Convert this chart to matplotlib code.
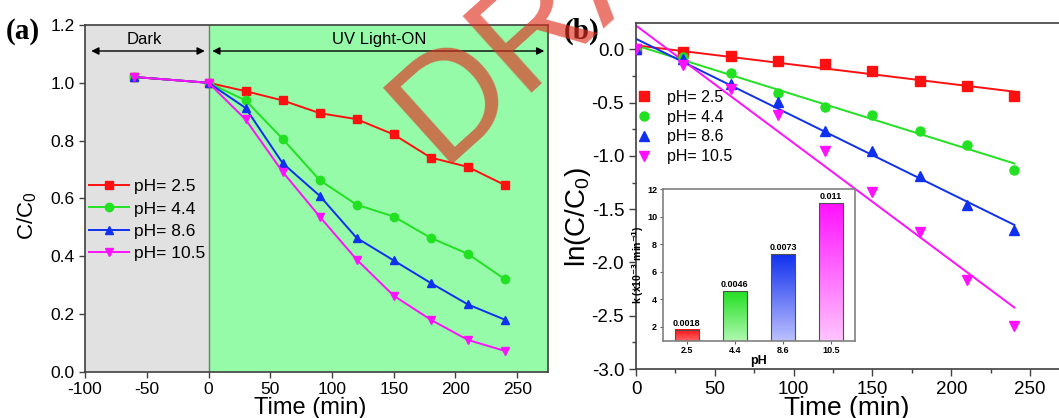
import numpy as np
import matplotlib.pyplot as plt
from matplotlib.colors import LinearSegmentedColormap

plt.rcParams['font.family'] = ['Liberation Sans', 'DejaVu Sans']
plt.rcParams['axes.unicode_minus'] = False
plt.rcParams['mathtext.default'] = 'regular'

# (a) C/C0 against time
time_a = [-60, 0, 30, 60, 90, 120, 150, 180, 210, 240]
c_ph25 = [1.02, 1.0, 0.971, 0.939, 0.895, 0.874, 0.821, 0.741, 0.709, 0.646]
c_ph44 = [1.02, 1.0, 0.939, 0.806, 0.663, 0.578, 0.537, 0.463, 0.408, 0.320]
c_ph86 = [1.02, 1.0, 0.913, 0.722, 0.609, 0.463, 0.385, 0.307, 0.233, 0.180]
c_ph105 = [1.02, 1.0, 0.873, 0.692, 0.537, 0.388, 0.263, 0.180, 0.110, 0.072]

# (b) ln(C/C0) against time
time_b = [0, 30, 60, 90, 120, 150, 180, 210, 240]
ln_ph25 = [0, -0.025, -0.065, -0.11, -0.14, -0.20, -0.30, -0.345, -0.435]
ln_ph44 = [0, -0.07, -0.218, -0.408, -0.545, -0.62, -0.77, -0.894, -1.13]
ln_ph86 = [0, -0.09, -0.324, -0.49, -0.766, -0.953, -1.187, -1.46, -1.70]
ln_ph105 = [0, -0.146, -0.37, -0.62, -0.956, -1.335, -1.715, -2.166, -2.594]

# inset: rate constants
ph_cats = ['2.5', '4.4', '8.6', '10.5']
k_vals = [0.0018, 0.0046, 0.0073, 0.011]
k_text = ['0.0018', '0.0046', '0.0073', '0.011']

labels = ['pH= 2.5', 'pH= 4.4', 'pH= 8.6', 'pH= 10.5']
colors = ['#ff1010', '#22e022', '#1030f0', '#ff10ff']
markers = ['s', 'o', '^', 'v']
light = ['#ffd0d0', '#d8ffd8', '#d8d8ff', '#ffd8ff']

fig = plt.figure(figsize=(10.59, 4.18), dpi=100)

# ---- panel (a)
ax1 = fig.add_axes([0.0803, 0.1108, 0.4372, 0.8294])
ax1.axvspan(-100, 0, color='#e1e1e1', zorder=0)
ax1.axvspan(0, 275, color='#96fba8', zorder=0)
ax1.axvline(0, color='#7a7a7a', lw=1, zorder=1)
for y, c, m, lab in zip([c_ph25, c_ph44, c_ph86, c_ph105], colors, markers, labels):
    ax1.plot(time_a, y, color=c, marker=m, ms=6, lw=1.4, label=lab, zorder=3)

# Dark / UV arrows
ax1.annotate('', xy=(-95, 1.11), xytext=(-3, 1.11),
             arrowprops=dict(arrowstyle='<|-|>', color='k', lw=1, shrinkA=0, shrinkB=0,
                             mutation_scale=11))
ax1.annotate('', xy=(3, 1.11), xytext=(272, 1.11),
             arrowprops=dict(arrowstyle='<|-|>', color='k', lw=1, shrinkA=0, shrinkB=0,
                             mutation_scale=11))
ax1.text(-52, 1.15, 'Dark', ha='center', va='center', fontsize=12)
ax1.text(138, 1.15, 'UV Light-ON', ha='center', va='center', fontsize=12)

ax1.set_xlim(-100, 275)
ax1.set_ylim(0, 1.2)
ax1.set_xticks(np.arange(-100, 251, 50))
ax1.set_yticks(np.arange(0, 1.21, 0.2))
ax1.set_yticklabels(['%.1f' % v for v in np.arange(0, 1.21, 0.2)])
ax1.tick_params(direction='out', length=4, width=1, labelsize=12.5, color='#404040')
for s in ax1.spines.values():
    s.set_color('#404040')
    s.set_linewidth(1.2)
ax1.set_xlabel('Time (min)', fontsize=17)
ax1.xaxis.set_label_coords(0.486, -0.074)
ax1.set_ylabel('C/C$_0$', fontsize=16)
ax1.yaxis.set_label_coords(-0.099, 0.45)
ax1.legend(loc='upper left', bbox_to_anchor=(0.0086, 0.555), frameon=False, fontsize=12.5,
           handlelength=2.3, handletextpad=0.3, labelspacing=0.4, borderpad=0,
           borderaxespad=0)
fig.text(0.005, 0.925, '(a)', fontsize=21, fontweight='bold', family='Liberation Serif',
         va='center')

# ---- panel (b)
ax2 = fig.add_axes([0.6006, 0.1172, 0.4093, 0.8285])
for y, c, m, lab in zip([ln_ph25, ln_ph44, ln_ph86, ln_ph105], colors, markers, labels):
    ax2.plot(time_b, y, ls='none', marker=m, color=c, ms=6.5, label=lab, zorder=3)
    fit = np.polyfit(time_b, y, 1)
    ends = [time_b[0], time_b[-1]]
    ax2.plot(ends, np.polyval(fit, ends), color=c, lw=1.4, zorder=2)

ax2.set_xlim(0, 275)
ax2.set_ylim(-3.0, 0.25)
ax2.set_xticks(np.arange(0, 251, 50))
ax2.set_xticks(np.arange(25, 276, 50), minor=True)
ax2.set_yticks(np.arange(-3.0, 0.01, 0.5))
ax2.set_yticks(np.arange(-2.75, 0.2, 0.5), minor=True)
ax2.set_yticklabels(['%.1f' % v for v in np.arange(-3.0, 0.01, 0.5)])
ax2.tick_params(direction='out', length=5, width=1, labelsize=13.5, color='#404040')
ax2.tick_params(which='minor', direction='out', length=3, width=1, color='#404040')
for s in ax2.spines.values():
    s.set_color('#404040')
    s.set_linewidth(1.2)
ax2.set_xlabel('Time (min)', fontsize=19)
ax2.xaxis.set_label_coords(0.485, -0.078)
ax2.set_ylabel('ln(C/C$_0$)', fontsize=20)
ax2.yaxis.set_label_coords(-0.099, 0.44)
ax2.legend(loc='upper left', bbox_to_anchor=(-0.003, 0.806), frameon=False, fontsize=11.5,
           handlelength=1.2, handletextpad=0.85, labelspacing=0.3, borderpad=0,
           borderaxespad=0, numpoints=1)
fig.text(0.532, 0.925, '(b)', fontsize=21, fontweight='bold', family='Liberation Serif',
         va='center')

# ---- inset bar chart with gradient bars
axi = fig.add_axes([0.6258, 0.1849, 0.1816, 0.3629])
grad = np.linspace(0, 1, 256).reshape(-1, 1)
for i, (k, c, lc, txt) in enumerate(zip(k_vals, colors, light, k_text)):
    h = k * 1000
    cmap = LinearSegmentedColormap.from_list('bar%d' % i, [lc, c])
    axi.imshow(grad, extent=(i - 0.25, i + 0.25, 0, h), origin='lower', cmap=cmap,
               aspect='auto', zorder=1)
    axi.bar(i, h, width=0.5, fill=False, edgecolor='#505050', lw=0.8, zorder=2)
    axi.text(i, h + 0.15, txt, ha='center', va='bottom', fontsize=6.5, fontweight='bold')
axi.set_xlim(-0.5, 3.5)
axi.set_ylim(1, 12)
axi.set_xticks(range(len(ph_cats)))
axi.set_xticklabels(ph_cats, fontweight='bold')
axi.set_yticks(range(2, 13, 2))
axi.set_yticklabels([str(v) for v in range(2, 13, 2)], fontweight='bold')
axi.tick_params(direction='out', length=2, width=0.8, labelsize=6.5, pad=2, color='#606060')
for s in axi.spines.values():
    s.set_color('#808080')
    s.set_linewidth(1.2)
axi.set_xlabel('pH', fontsize=9, fontweight='bold', labelpad=0)
axi.set_ylabel('k (x10$^{\\mathbf{-3}}$ min$^{\\mathbf{-1}}$)', fontsize=7.5, fontweight='bold',
               labelpad=1)

# watermark
fig.text(0.4155, 0.605, 'DRAFT', rotation=42, rotation_mode='anchor', ha='left',
         va='baseline', fontsize=108, color='#e03020', alpha=0.65, zorder=10)

fig.savefig('out.png', dpi=100)
